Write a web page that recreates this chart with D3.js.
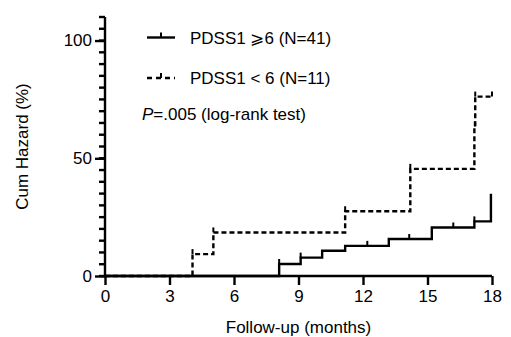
<!DOCTYPE html>
<html>
<head>
<meta charset="utf-8">
<script src="https://cdn.jsdelivr.net/npm/d3@7"></script>
<style>
  body { margin: 0; background: #fff; }
  svg text { font-family: "Liberation Sans", Arial, sans-serif; fill: #000; }
</style>
</head>
<body>
<div id="chart"></div>
<script>
// data (months, cumulative hazard %)
var xTicks = [0, 3, 6, 9, 12, 15, 18];
var yMajorTicks = [0, 50, 100];
var yMinorTicks = d3.range(0, 111, 5);

var highTimes = [0, 8.1, 9.1, 10.1, 11.17, 13.2, 15.2, 17.18, 17.95];
var highHazard = [0, 5.1, 7.8, 10.7, 12.8, 15.7, 20.6, 23.2, 34.9];
var highCensored = [8.1, 9.1, 12.2, 14.15, 16.2, 17.18];

var lowTimes = [0, 4.07, 5.04, 11.17, 14.2, 17.18, 17.22, 18];
var lowHazard = [0, 9.3, 18.5, 27.5, 45.5, 63.5, 76.2, 76.2];
var lowCensored = [4.07, 5.04, 11.17, 14.2, 17.2, 17.22, 18];

var legendLabels = ["PDSS1 \u2A7E6 (N=41)", "PDSS1 < 6 (N=11)"];

var svgWidth = 511, svgHeight = 337;
var margin = { top: 17, right: 19, bottom: 61, left: 105 };
var width = svgWidth - margin.left - margin.right;
var height = svgHeight - margin.top - margin.bottom;
var fontSize = 17;
var lw = 2.4;

var svg = d3.select("#chart").append("svg")
    .attr("width", svgWidth)
    .attr("height", svgHeight);

var g = svg.append("g")
    .attr("transform", `translate(${margin.left}, ${margin.top})`);

var x = d3.scaleLinear().domain([0, 18]).range([0, width]);
var y = d3.scaleLinear().domain([0, 110]).range([height, 0]);

var yMajor = g.append("g")
    .call(d3.axisLeft(y).tickValues(yMajorTicks).tickSize(10).tickPadding(3));
var xAxis = g.append("g")
    .attr("transform", `translate(0,${height})`)
    .call(d3.axisBottom(x).tickValues(xTicks).tickSize(9).tickPadding(5));

[yMajor, xAxis].forEach(function(a) {
    a.selectAll("line").attr("stroke", "#000").attr("stroke-width", lw);
    a.select(".domain").remove();
    a.selectAll("text").attr("font-size", fontSize)
        .attr("font-family", "Liberation Sans, Arial, sans-serif").attr("fill", "#000");
});
g.append("line").attr("x1", 0).attr("x2", 0).attr("y1", y(0)).attr("y2", y(110))
    .attr("stroke", "#000").attr("stroke-width", lw);
g.append("line").attr("x1", 0).attr("x2", x(18)).attr("y1", y(0)).attr("y2", y(0))
    .attr("stroke", "#000").attr("stroke-width", lw);

// axis titles
g.append("text")
    .attr("x", width / 2).attr("y", height + 57)
    .attr("text-anchor", "middle").attr("font-size", fontSize)
    .text("Follow-up (months)");
g.append("text")
    .attr("transform", `translate(-77,${y(55)}) rotate(-90)`)
    .attr("text-anchor", "middle").attr("font-size", fontSize)
    .text("Cum Hazard (%)");

// step curves
var stepLine = d3.line()
    .x(function(d) { return x(d[0]); })
    .y(function(d) { return y(d[1]); })
    .curve(d3.curveStepAfter);

function hazardAt(times, hz, t) {
    var i = d3.bisectRight(times, t) - 1;
    return hz[Math.max(0, i)];
}

var series = [
    { times: highTimes, hz: highHazard, cens: highCensored, dash: null },
    { times: lowTimes, hz: lowHazard, cens: lowCensored, dash: "5,3" }
];

series.forEach(function(s) {
    g.append("path")
        .datum(d3.zip(s.times, s.hz))
        .attr("d", stepLine)
        .attr("fill", "none")
        .attr("stroke", "#000")
        .attr("stroke-width", lw)
        .attr("stroke-dasharray", s.dash);
    g.selectAll(null).data(s.cens).enter().append("line")
        .attr("x1", function(d) { return x(d); })
        .attr("x2", function(d) { return x(d); })
        .attr("y1", function(d) { return y(hazardAt(s.times, s.hz, d)); })
        .attr("y2", function(d) { return y(hazardAt(s.times, s.hz, d)) - 5; })
        .attr("stroke", "#000")
        .attr("stroke-width", 2);
});

// legend
var legend = svg.append("g");
var legendY = [37.5, 78];
legendLabels.forEach(function(lab, i) {
    var ly = legendY[i];
    legend.append("line")
        .attr("x1", 147).attr("x2", 175).attr("y1", ly).attr("y2", ly)
        .attr("stroke", "#000").attr("stroke-width", lw)
        .attr("stroke-dasharray", i === 1 ? "5,4" : null);
    legend.append("line")
        .attr("x1", 161).attr("x2", 161).attr("y1", ly).attr("y2", ly - 5)
        .attr("stroke", "#000").attr("stroke-width", 2);
    legend.append("text")
        .attr("x", 190).attr("y", ly + 6)
        .attr("font-size", fontSize)
        .text(lab);
});
var pText = legend.append("text")
    .attr("x", 142).attr("y", 120)
    .attr("font-size", fontSize);
pText.append("tspan").attr("font-style", "italic").text("P");
pText.append("tspan").text("=.005 (log-rank test)");

// y minor ticks as small filled rects, drawn last on top
svg.append("g")
    .attr("transform", `translate(${margin.left}, ${margin.top})`)
    .selectAll("rect")
    .data(yMinorTicks)
    .enter().append("rect")
    .attr("x", -6)
    .attr("y", function(d) { return y(d) - 1.2; })
    .attr("width", 6)
    .attr("height", 2.4)
    .attr("fill", "#000");
</script>
</body>
</html>
